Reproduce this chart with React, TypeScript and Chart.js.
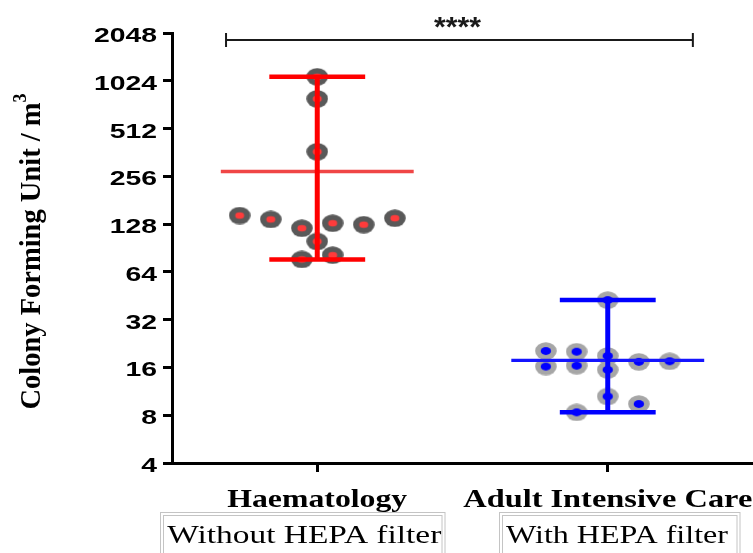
import React, { useEffect, useRef } from 'react';
import { Chart, registerables } from 'chart.js';

Chart.register(...registerables);

// ---- data ----
const categories = ['Haematology', 'Adult Intensive Care'];
const subLabels = ['Without HEPA filter', 'With HEPA filter'];
const yTicks = [4, 8, 16, 32, 64, 128, 256, 512, 1024, 2048];
const haemValues = [1085, 788, 366, 145, 137, 120.6, 129.7, 127, 139.4, 99.5, 76.7, 81.6];
const haemJitter = [0, 0, 0, -0.267, -0.16, -0.053, 0.053, 0.16, 0.267, 0, -0.053, 0.053];
const icuValues = [42.5, 20.3, 20.1, 18.9, 16.2, 16.4, 17.35, 17.5, 15.45, 10.5, 9.41, 8.34];
const icuJitter = [0, -0.213, -0.107, 0, -0.213, -0.107, 0.107, 0.213, 0, 0, 0.107, -0.107];
const significance = '****';
const yTitle = 'Colony Forming Unit / m';
const yTitleSup = '3';

const groups = [
  { values: haemValues, jitter: haemJitter, outer: '#595959', inner: '#ff3b3b', bar: '#ff0000', mean: '#f04646', irx: 4.5, iry: 3.3 },
  { values: icuValues, jitter: icuJitter, outer: '#a6a6a6', inner: '#0000ff', bar: '#0000ff', mean: '#1414ff', irx: 5.2, iry: 3.9 },
];

function makeDot(outer: string, inner: string, irx: number, iry: number) {
  const c = document.createElement('canvas');
  c.width = 22;
  c.height = 18;
  const ctx = c.getContext('2d')!;
  ctx.fillStyle = outer;
  ctx.beginPath();
  ctx.ellipse(11, 9, 10.8, 8.7, 0, 0, Math.PI * 2);
  ctx.fill();
  ctx.fillStyle = inner;
  ctx.beginPath();
  ctx.ellipse(11, 9, irx, iry, 0, 0, Math.PI * 2);
  ctx.fill();
  return c;
}

function drawStretched(ctx: CanvasRenderingContext2D, text: string, cx: number, baseline: number, font: string, width: number, color = '#000') {
  ctx.save();
  ctx.font = font;
  ctx.fillStyle = color;
  ctx.textAlign = 'center';
  ctx.textBaseline = 'alphabetic';
  const w = ctx.measureText(text).width;
  ctx.translate(cx, baseline);
  ctx.scale(width / w, 1);
  ctx.fillText(text, 0, 0);
  ctx.restore();
}

const overlayPlugin = {
  id: 'overlay',
  afterDatasetsDraw(chart: any) {
    const ctx: CanvasRenderingContext2D = chart.ctx;
    const xs = chart.scales.x;
    const ys = chart.scales.y;
    groups.forEach((g, i) => {
      const max = Math.max(...g.values);
      const min = Math.min(...g.values);
      const mean = g.values.reduce((a, b) => a + b, 0) / g.values.length;
      const cx = xs.getPixelForValue(i);
      const capL = xs.getPixelForValue(i - 0.165);
      const capR = xs.getPixelForValue(i + 0.165);
      const mL = xs.getPixelForValue(i - 0.332);
      const mR = xs.getPixelForValue(i + 0.332);
      const yMax = ys.getPixelForValue(max);
      const yMin = ys.getPixelForValue(min);
      const yMean = ys.getPixelForValue(mean);
      ctx.save();
      ctx.lineCap = 'butt';
      ctx.strokeStyle = g.mean;
      ctx.lineWidth = 3.3;
      ctx.beginPath();
      ctx.moveTo(mL, yMean);
      ctx.lineTo(mR, yMean);
      ctx.stroke();
      ctx.strokeStyle = g.bar;
      ctx.lineWidth = 5;
      ctx.beginPath();
      ctx.moveTo(cx, yMax);
      ctx.lineTo(cx, yMin);
      ctx.stroke();
      ctx.lineWidth = 4.5;
      ctx.beginPath();
      ctx.moveTo(capL, yMax);
      ctx.lineTo(capR, yMax);
      ctx.moveTo(capL, yMin);
      ctx.lineTo(capR, yMin);
      ctx.stroke();
      ctx.restore();
    });
  },
  afterDraw(chart: any) {
    const ctx: CanvasRenderingContext2D = chart.ctx;
    const xs = chart.scales.x;
    const ys = chart.scales.y;
    // y tick labels
    ctx.save();
    ctx.font = 'bold 21px "Liberation Sans", Arial, sans-serif';
    ctx.fillStyle = '#000';
    ctx.textAlign = 'right';
    ctx.textBaseline = 'alphabetic';
    yTicks.forEach((v) => {
      const y = ys.getPixelForValue(v);
      ctx.save();
      ctx.translate(157, y + 9);
      ctx.scale(1.35, 1);
      ctx.fillText(String(v), 0, 0);
      ctx.restore();
    });
    ctx.restore();
    // category labels
    const catWidths = [180, 289];
    categories.forEach((c, i) => {
      drawStretched(ctx, c, xs.getPixelForValue(i), 507, 'bold 26px "Liberation Serif", "Times New Roman", serif', catWidths[i]);
    });
    // boxes with sub labels
    const boxes = [
      { l: 160, r: 444.5, tx: 304.3, tw: 274 },
      { l: 499, r: 739.5, tx: 617, tw: 222 },
    ];
    boxes.forEach((b, i) => {
      ctx.save();
      ctx.strokeStyle = '#c4c4c4';
      ctx.lineWidth = 1;
      ctx.strokeRect(b.l + 0.5, 512.5, b.r - b.l, 60);
      ctx.strokeRect(b.l + 3.5, 515.5, b.r - b.l - 6, 60);
      ctx.restore();
      drawStretched(ctx, subLabels[i], b.tx, 543, '26px "Liberation Serif", "Times New Roman", serif', b.tw);
    });
    // significance bracket
    const bl = xs.getPixelForValue(-0.314);
    const br = xs.getPixelForValue(1.293);
    const by = 40;
    ctx.save();
    ctx.strokeStyle = '#1a1a1a';
    ctx.lineWidth = 2;
    ctx.beginPath();
    ctx.moveTo(bl, by);
    ctx.lineTo(br, by);
    ctx.moveTo(bl, by - 7);
    ctx.lineTo(bl, by + 7);
    ctx.moveTo(br, by - 7);
    ctx.lineTo(br, by + 7);
    ctx.stroke();
    ctx.restore();
    drawStretched(ctx, significance, (bl + br) / 2 - 2, 36, 'bold 28px "Liberation Sans", Arial, sans-serif', 47, '#1a1a1a');
    // y title
    ctx.save();
    ctx.translate(40, 251.5);
    ctx.rotate(-Math.PI / 2);
    ctx.fillStyle = '#000';
    ctx.textBaseline = 'alphabetic';
    ctx.textAlign = 'left';
    const mainFont = 'bold 28.5px "Liberation Serif", "Times New Roman", serif';
    const supFont = 'bold 18px "Liberation Serif", "Times New Roman", serif';
    ctx.font = mainFont;
    const mw = ctx.measureText(yTitle).width;
    ctx.font = supFont;
    const sw = ctx.measureText(yTitleSup).width;
    const start = -(mw + sw) / 2;
    ctx.font = mainFont;
    ctx.fillText(yTitle, start, 0);
    ctx.font = supFont;
    ctx.fillText(yTitleSup, start + mw, -14);
    ctx.restore();
  },
};

export default function App() {
  const ref = useRef<HTMLCanvasElement>(null);
  useEffect(() => {
    if (!ref.current) return;
    const datasets = groups.map((g, i) => {
      const img = makeDot(g.outer, g.inner, g.irx, g.iry);
      return {
        type: 'scatter' as const,
        label: categories[i],
        data: g.values.map((v, k) => ({ x: i + g.jitter[k], y: v })),
        pointStyle: img,
        pointRadius: 10,
        pointHoverRadius: 10,
      };
    });
    const axisCommon = {
      ticks: { display: false },
      grid: { display: true, drawOnChartArea: false, drawTicks: true, tickLength: 9, tickWidth: 3, tickColor: '#000', color: '#000' },
      border: { display: true, color: '#000', width: 3 },
    };
    const chart = new Chart(ref.current, {
      type: 'scatter',
      data: { datasets },
      options: {
        animation: false,
        responsive: false,
        devicePixelRatio: 1,
        layout: { autoPadding: false, padding: { left: 163, top: 33, right: 0, bottom: 81 } },
        plugins: { legend: { display: false }, tooltip: { enabled: false } },
        scales: {
          x: {
            type: 'linear',
            min: -0.5,
            max: 1.5,
            afterBuildTicks: (s: any) => {
              s.ticks = categories.map((_, i) => ({ value: i }));
            },
            ...axisCommon,
          },
          y: {
            type: 'logarithmic',
            min: 4,
            max: 2048,
            afterBuildTicks: (s: any) => {
              s.ticks = yTicks.map((v) => ({ value: v }));
            },
            ...axisCommon,
          },
        },
      },
      plugins: [overlayPlugin],
    } as any);
    return () => chart.destroy();
  }, []);
  return (
    <div style={{ position: 'fixed', left: 0, top: 0, width: 753, height: 553, background: '#fff', overflow: 'hidden' }}>
      <canvas ref={ref} width={753} height={553} style={{ display: 'block', width: 753, height: 553 }} />
    </div>
  );
}
